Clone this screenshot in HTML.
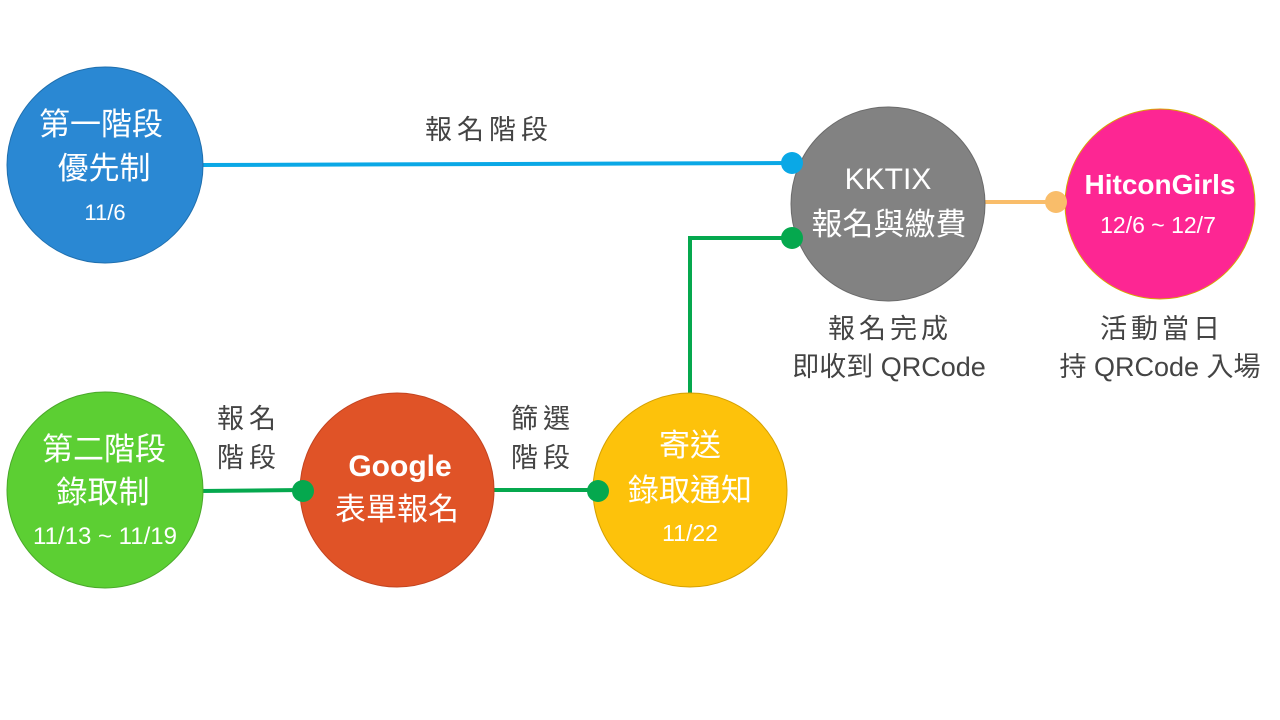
<!DOCTYPE html>
<html><head><meta charset="utf-8"><style>
html,body{margin:0;padding:0;background:#fff;}
svg{display:block;}
text{font-family:"Liberation Sans","Noto Sans CJK TC",sans-serif;}
.lb{font-family:"DejaVu Sans","Noto Sans CJK TC",sans-serif;}
</style></head><body>
<svg width="1280" height="720" viewBox="0 0 1280 720" xmlns="http://www.w3.org/2000/svg">
<rect width="1280" height="720" fill="#fff"/>
<line x1="200" y1="165" x2="792" y2="163" stroke="#0aa8e6" stroke-width="4"/>
<line x1="985" y1="202" x2="1056" y2="202" stroke="#f9bd6a" stroke-width="4"/>
<polyline points="690,395 690,238 792,238" fill="none" stroke="#05a84e" stroke-width="4"/>
<line x1="200" y1="491" x2="303" y2="490" stroke="#05a84e" stroke-width="4"/>
<line x1="493" y1="490" x2="598" y2="490" stroke="#05a84e" stroke-width="4"/>
<circle cx="105" cy="165" r="98" fill="#2a88d3" stroke="#1f6fae" stroke-width="1"/>
<circle cx="888" cy="204" r="97" fill="#828282" stroke="#6b6b6b" stroke-width="1"/>
<circle cx="1160" cy="204" r="95" fill="#fd2693" stroke="#d7a800" stroke-width="1"/>
<circle cx="105" cy="490" r="98" fill="#5ccf33" stroke="#4aa82a" stroke-width="1"/>
<circle cx="397" cy="490" r="97" fill="#e05327" stroke="#c34420" stroke-width="1"/>
<circle cx="690" cy="490" r="97" fill="#fdc20b" stroke="#d4a000" stroke-width="1"/>
<circle cx="792" cy="163" r="11" fill="#0aa8e6"/>
<circle cx="1056" cy="202" r="11" fill="#f9bd6a"/>
<circle cx="792" cy="238" r="11" fill="#05a84e"/>
<circle cx="303" cy="491" r="11" fill="#05a84e"/>
<circle cx="598" cy="491" r="11" fill="#05a84e"/>
<g fill="#fff" text-anchor="middle">
<text x="101" y="135" font-size="31">第一階段</text>
<text x="104" y="179" font-size="31">優先制</text>
<text x="105" y="220" font-size="22">11/6</text>
<text x="888" y="189" font-size="30">KKTIX</text>
<text x="889" y="235" font-size="31">報名與繳費</text>
<text x="1160" y="194" font-size="28" font-weight="bold">HitconGirls</text>
<text x="1158" y="233" font-size="23">12/6 ~ 12/7</text>
<text x="104" y="460" font-size="31">第二階段</text>
<text x="103" y="503" font-size="31">錄取制</text>
<text x="105" y="544" font-size="24">11/13 ~ 11/19</text>
<text x="400" y="476" font-size="30" font-weight="bold">Google</text>
<text x="397" y="520" font-size="31">表單報名</text>
<text x="690" y="456" font-size="31">寄送</text>
<text x="690" y="501" font-size="31">錄取通知</text>
<text x="690" y="541" font-size="23">11/22</text>
</g>
<g fill="#444" text-anchor="middle" font-size="27" class="lb">
<text x="489" y="139" letter-spacing="5">報名階段</text>
<text x="249" y="428" letter-spacing="5">報名</text>
<text x="249" y="467" letter-spacing="5">階段</text>
<text x="543" y="428" letter-spacing="5">篩選</text>
<text x="543" y="467" letter-spacing="5">階段</text>
<text x="890" y="338" letter-spacing="4">報名完成</text>
<text x="889" y="376">即收到 QRCode</text>
<text x="1162" y="338" letter-spacing="4">活動當日</text>
<text x="1160" y="376">持 QRCode 入場</text>
</g>
</svg>
</body></html>
